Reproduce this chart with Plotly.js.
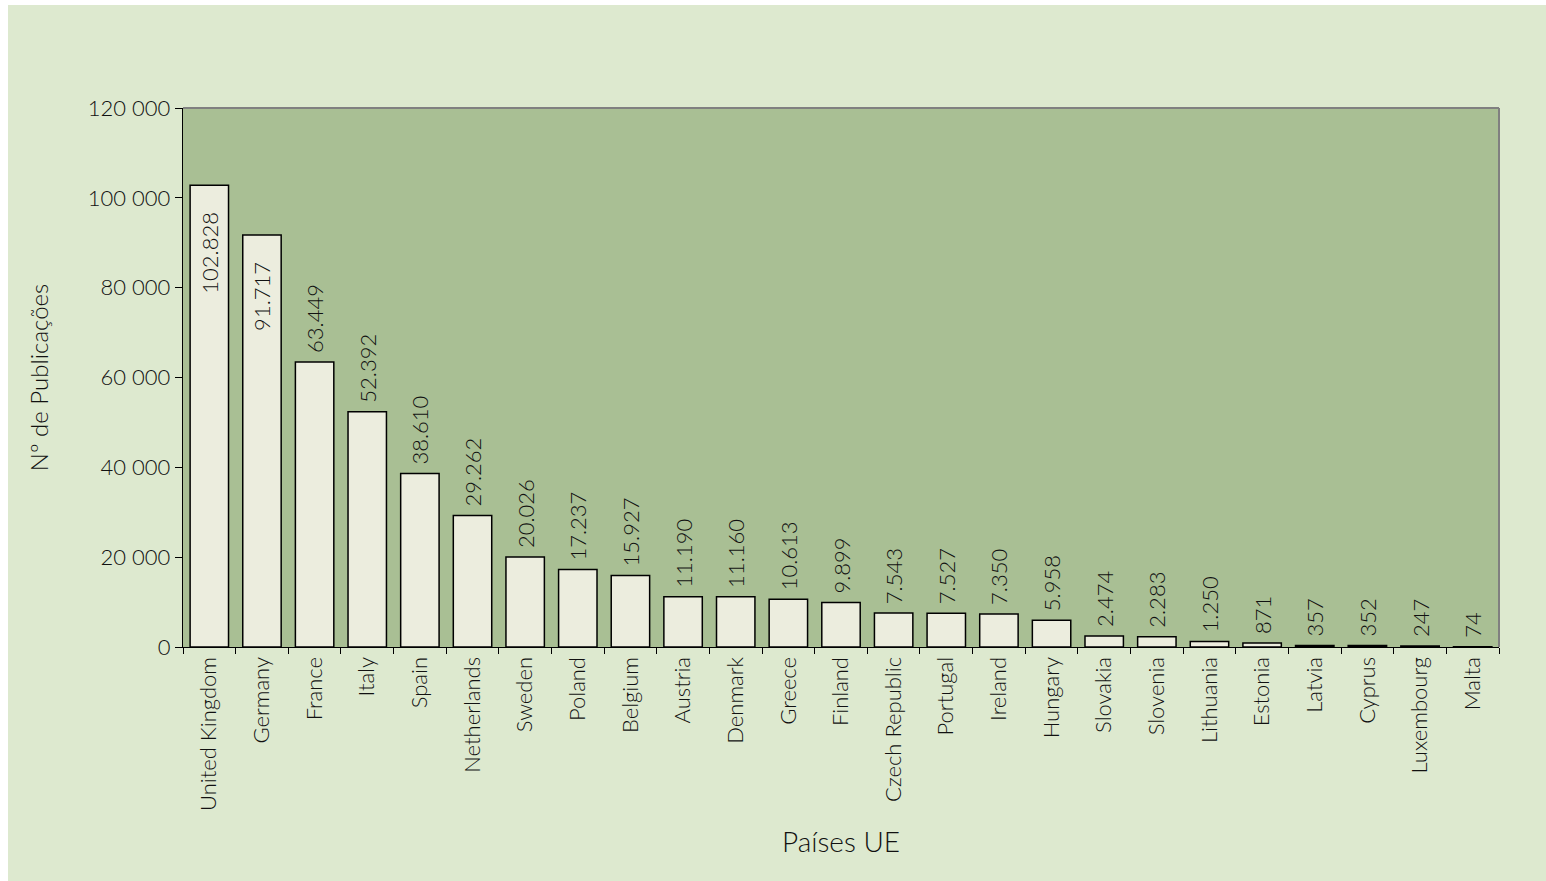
<!DOCTYPE html>
<html>
<head>
<meta charset="utf-8">
<script src="https://cdn.plot.ly/plotly-3.0.1.min.js"></script>
<style>
html,body{margin:0;padding:0;background:#ffffff;overflow:hidden;width:1546px;height:881px;}
#chart{position:absolute;left:8px;top:5px;width:1538px;height:876px;}
</style>
</head>
<body>
<div id="chart"></div>
<script>
const countries = ["United Kingdom","Germany","France","Italy","Spain","Netherlands","Sweden","Poland","Belgium","Austria","Denmark","Greece","Finland","Czech Republic","Portugal","Ireland","Hungary","Slovakia","Slovenia","Lithuania","Estonia","Latvia","Cyprus","Luxembourg","Malta"];
const publications = [102828,91717,63449,52392,38610,29262,20026,17237,15927,11190,11160,10613,9899,7543,7527,7350,5958,2474,2283,1250,871,357,352,247,74];
const yTickVals = [0,20000,40000,60000,80000,100000,120000];
const yTickText = ["0","20 000","40 000","60 000","80 000","100 000","120 000"];

function fmt(v){ return String(v).replace(/\B(?=(\d{3})+(?!\d))/g, "."); }
const positions = publications.map(v => v > 80000 ? "inside" : "outside");
// spacing like the original: inside labels sit below the bar top, outside labels a bit above it
const NB = "\u00a0";
const labels = publications.map((v, i) => positions[i] === "inside" ? fmt(v) + NB + NB + NB + NB : NB + fmt(v));

const FONT = "Lato, 'Open Sans', sans-serif";

const trace = {
  type: "bar",
  x: countries,
  y: publications,
  text: labels,
  textposition: positions,
  insidetextanchor: "end",
  textangle: -90,
  constraintext: "none",
  cliponaxis: false,
  textfont: {family: FONT, size: 22, color: "#111111", weight: 300},
  marker: {color: "#ecedde", line: {color: "#000000", width: 1.5}},
  hoverinfo: "x+y"
};

const layout = {
  width: 1538,
  height: 876,
  paper_bgcolor: "#dde9cf",
  plot_bgcolor: "#a9bf94",
  margin: {l: 175, r: 47, t: 103, b: 234},
  bargap: 0.27,
  showlegend: false,
  font: {family: FONT, color: "#111111", weight: 300},
  xaxis: {
    type: "category",
    tickangle: -90,
    tickfont: {family: FONT, size: 22, color: "#111111", weight: 300},
    ticks: "outside",
    tickson: "boundaries",
    ticklen: 6,
    tickcolor: "#000000",
    showline: true,
    linecolor: "#000000",
    linewidth: 1.2,
    showgrid: false,
    zeroline: false,
    title: {text: "Países UE", font: {family: FONT, size: 28, color: "#111111", weight: 300}, standoff: 22}
  },
  yaxis: {
    range: [0, 120000],
    tickvals: yTickVals,
    ticktext: yTickText,
    tickfont: {family: FONT, size: 22, color: "#111111", weight: 300},
    ticks: "outside",
    ticklen: 7,
    tickcolor: "#000000",
    showline: true,
    linecolor: "#000000",
    linewidth: 1.2,
    showgrid: false,
    zeroline: false,
    title: {text: "Nº de Publicações", font: {family: FONT, size: 24, color: "#111111", weight: 300}, standoff: 32}
  },
  shapes: [
    {type: "line", xref: "paper", yref: "paper", x0: 0, x1: 1, y0: 1, y1: 1, line: {color: "#808080", width: 2}},
    {type: "line", xref: "paper", yref: "paper", x0: 1, x1: 1, y0: 0, y1: 1, line: {color: "#808080", width: 2}}
  ]
};

Plotly.newPlot("chart", [trace], layout, {displayModeBar: false, staticPlot: true});
</script>
</body>
</html>
